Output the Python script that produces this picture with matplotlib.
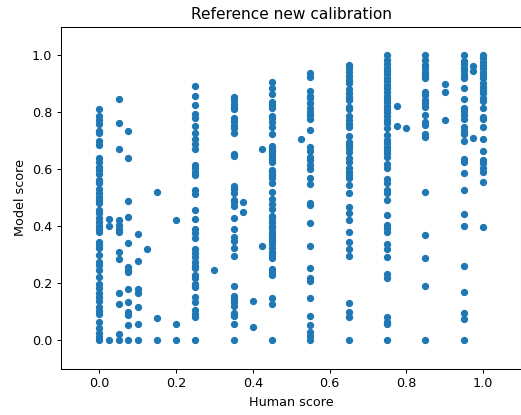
import matplotlib
matplotlib.use("Agg")
import matplotlib.pyplot as plt

# human score -> model scores
columns = {
    0.0: [0.81, 0.786, 0.772, 0.758, 0.734, 0.725, 0.698, 0.684, 0.638, 0.626, 0.608, 0.596,
          0.582, 0.561, 0.552, 0.53, 0.517, 0.503, 0.491, 0.48, 0.456, 0.445, 0.428, 0.415,
          0.40, 0.39, 0.38, 0.345, 0.333, 0.322, 0.30, 0.275, 0.263, 0.246, 0.222, 0.196,
          0.182, 0.166, 0.15, 0.137, 0.115, 0.103, 0.091, 0.064, 0.042, 0.024, 0.01, 0.0],
    0.025: [0.424, 0.40, 0.0],
    0.05: [0.845, 0.76, 0.67, 0.42, 0.405, 0.39, 0.378, 0.31, 0.285, 0.165, 0.127, 0.02, 0.0],
    0.075: [0.733, 0.64, 0.488, 0.432, 0.339, 0.255, 0.247, 0.24, 0.178, 0.133, 0.098, 0.087,
            0.053, 0.0],
    0.1: [0.373, 0.278, 0.178, 0.166, 0.115, 0.057, 0.0],
    0.125: [0.32],
    0.15: [0.518, 0.078, 0.0],
    0.2: [0.42, 0.056, 0.0],
    0.25: [0.892, 0.855, 0.825, 0.792, 0.78, 0.751, 0.725, 0.707, 0.688, 0.67, 0.614, 0.602,
           0.591, 0.579, 0.526, 0.511, 0.455, 0.425, 0.389, 0.374, 0.357, 0.319, 0.306, 0.292,
           0.275, 0.261, 0.251, 0.228, 0.219, 0.195, 0.187, 0.152, 0.134, 0.104, 0.09, 0.081, 0.0],
    0.3: [0.245],
    0.35: [0.853, 0.841, 0.829, 0.818, 0.81, 0.778, 0.768, 0.754, 0.745, 0.725, 0.652, 0.647,
           0.541, 0.53, 0.515, 0.491, 0.483, 0.471, 0.429, 0.39, 0.363, 0.347, 0.322, 0.296,
           0.189, 0.154, 0.144, 0.132, 0.12, 0.094, 0.085, 0.057, 0.0],
    0.375: [0.485, 0.448],
    0.4: [0.137, 0.047],
    0.425: [0.669, 0.33],
    0.45: [0.905, 0.883, 0.862, 0.836, 0.825, 0.813, 0.787, 0.778, 0.766, 0.748, 0.722, 0.682,
           0.672, 0.663, 0.654, 0.645, 0.635, 0.626, 0.596, 0.588, 0.579, 0.57, 0.55, 0.52,
           0.495, 0.478, 0.46, 0.436, 0.427, 0.415, 0.401, 0.392, 0.38, 0.368, 0.359, 0.347,
           0.336, 0.322, 0.31, 0.298, 0.289, 0.249, 0.24, 0.228, 0.146, 0.127, 0.0],
    0.525: [0.705],
    0.55: [0.938, 0.924, 0.875, 0.856, 0.848, 0.833, 0.813, 0.801, 0.789, 0.777, 0.737, 0.676,
           0.664, 0.641, 0.632, 0.614, 0.599, 0.567, 0.547, 0.482, 0.473, 0.409, 0.331, 0.254,
           0.216, 0.206, 0.147, 0.085, 0.053, 0.029, 0.015, 0.0],
    0.65: [0.965, 0.953, 0.942, 0.926, 0.912, 0.901, 0.88, 0.866, 0.854, 0.842, 0.819, 0.81,
           0.786, 0.772, 0.758, 0.748, 0.717, 0.696, 0.684, 0.673, 0.661, 0.638, 0.626, 0.602,
           0.591, 0.579, 0.567, 0.544, 0.517, 0.466, 0.444, 0.421, 0.38, 0.345, 0.318, 0.296,
           0.131, 0.1, 0.082, 0.0],
    0.75: [1.0, 0.982, 0.967, 0.956, 0.944, 0.932, 0.921, 0.909, 0.895, 0.883, 0.871, 0.857,
           0.846, 0.834, 0.822, 0.81, 0.799, 0.787, 0.772, 0.76, 0.743, 0.719, 0.702, 0.69,
           0.678, 0.667, 0.655, 0.643, 0.616, 0.602, 0.565, 0.55, 0.525, 0.515, 0.491, 0.439,
           0.404, 0.392, 0.38, 0.336, 0.319, 0.292, 0.23, 0.219, 0.082, 0.064, 0.055, 0.0],
    0.775: [0.82, 0.752],
    0.8: [0.745],
    0.85: [1.0, 0.982, 0.965, 0.954, 0.94, 0.93, 0.92, 0.871, 0.86, 0.842, 0.83, 0.819, 0.789,
           0.766, 0.754, 0.722, 0.713, 0.52, 0.368, 0.289, 0.191, 0.0],
    0.9: [0.9, 0.871, 0.771],
    0.95: [1.0, 0.979, 0.967, 0.955, 0.943, 0.93, 0.918, 0.885, 0.845, 0.815, 0.804, 0.789,
           0.775, 0.748, 0.733, 0.722, 0.698, 0.635, 0.623, 0.586, 0.525, 0.441, 0.4, 0.261,
           0.17, 0.096, 0.074, 0.0],
    0.975: [0.963, 0.945, 0.708],
    1.0: [1.0, 0.988, 0.977, 0.965, 0.953, 0.942, 0.93, 0.918, 0.901, 0.889, 0.877, 0.866,
          0.85, 0.839, 0.815, 0.784, 0.775, 0.748, 0.704, 0.663, 0.632, 0.62, 0.605, 0.591,
          0.555, 0.397],
}

human = []
model = []
for h, vals in columns.items():
    human.extend([h] * len(vals))
    model.extend(vals)

dpi = 92
fig = plt.figure(figsize=(521 / dpi, 415 / dpi), dpi=dpi)
ax = fig.add_axes([61 / 521, 46.5 / 415, 460.4 / 521, 342 / 415])
ax.scatter(human, model, s=22, color="#1f77b4")
ax.set_xlim(-0.1, 1.1)
ax.set_ylim(-0.1, 1.1)
ax.set_title("Reference new calibration")
ax.set_xlabel("Human score")
ax.set_ylabel("Model score")

fig.savefig("out.png", dpi=dpi)
